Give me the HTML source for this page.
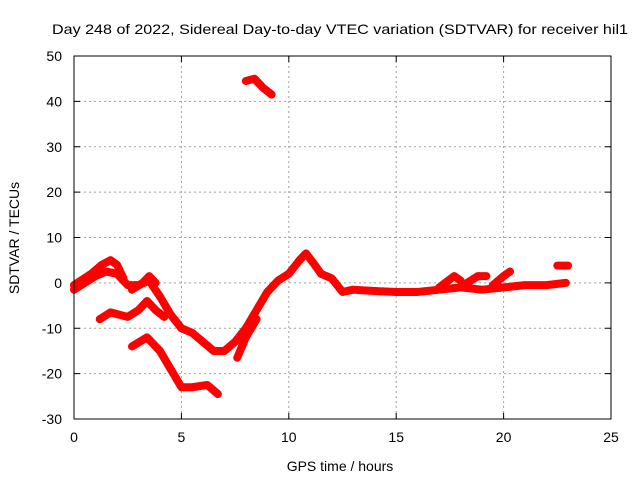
<!DOCTYPE html>
<html><head><meta charset="utf-8"><style>
body{margin:0;background:#fff}
svg{display:block;font-family:"Liberation Sans",sans-serif}
</style></head><body>
<svg id="c" width="640" height="480">
<rect width="640" height="480" fill="#fff"/>
<text x="340" y="34" font-size="14" text-anchor="middle" textLength="576" lengthAdjust="spacingAndGlyphs">Day 248 of 2022, Sidereal Day-to-day VTEC variation (SDTVAR) for receiver hil1</text>
<g id="grid"></g>
<g id="series"></g>
<rect x="74" y="56" width="537" height="363" fill="none" stroke="#000" stroke-width="1"/>
<text x="340" y="471" font-size="14" text-anchor="middle">GPS time / hours</text>
<text transform="translate(19,238) rotate(-90)" font-size="14" text-anchor="middle">SDTVAR / TECUs</text>
</svg>
<script>
const xTicks=[0,5,10,15,20,25];
const yTicks=[-30,-20,-10,0,10,20,30,40,50];
const segMain=[[0,-1.5],[0.5,0],[1,1.5],[1.5,2.5],[2,2],[2.5,-0.5],[3,-0.5],[3.5,0.5],[4,-3],[4.5,-7],[5,-10],[5.5,-11],[6,-13],[6.5,-15],[7,-15],[7.5,-13],[8,-10],[8.5,-6],[9,-2],[9.5,0.5],[10,2],[10.5,5],[10.8,6.5],[11.2,4],[11.5,2],[12,1],[12.5,-2],[13,-1.5],[14,-1.8],[15,-2],[16,-2],[17,-1.5],[18,-1],[19,-1.5],[20,-1],[21,-0.5],[22,-0.5],[22.9,0]];
const segUpper=[[0,-0.5],[0.8,2],[1.3,4],[1.7,5],[2.0,4],[2.3,1]];
const segB=[[1.2,-8],[1.7,-6.5],[2.5,-7.5],[3,-6],[3.4,-4],[3.8,-6],[4.2,-7.5]];
const segC=[[2.7,-14],[3.4,-12],[4,-15],[4.5,-19],[5,-23],[5.5,-23],[6.2,-22.5],[6.7,-24.5]];
const segD=[[7.6,-16.5],[8,-12],[8.5,-8]];
const segTop=[[8.0,44.5],[8.4,45],[8.8,43],[9.2,41.5]];
const segE=[[2.7,-1.5],[3.2,0],[3.5,1.5],[3.8,0]];
const segF=[[17,-1],[17.7,1.5],[18,0.5]];
const segG=[[18.3,0],[18.8,1.5],[19.2,1.5]];
const segH=[[19.5,-0.5],[20,1.5],[20.3,2.5]];
const segI=[[22.5,3.8],[23,3.8]];
const series=[segMain,segUpper,segB,segC,segD,segTop,segE,segF,segG,segH,segI];
const X0=74,X1=611,Y0=419,Y1=56;
const sx=v=>X0+(v-0)/(25-0)*(X1-X0);
const sy=v=>Y0-(v+30)/80*(Y0-Y1);
const NS="http://www.w3.org/2000/svg";
const g=document.getElementById('grid'),s=document.getElementById('series');
function mk(t,a,p){const e=document.createElementNS(NS,t);for(const k in a)e.setAttribute(k,a[k]);p.appendChild(e);return e;}
xTicks.forEach(v=>{const x=sx(v);
 if(v>0&&v<25){const l=mk('line',{x1:x,x2:x,y1:Y1,y2:Y0,stroke:'#a0a0a0','stroke-dasharray':'2,3'},g);
 
 }
 mk('line',{x1:x,x2:x,y1:Y0,y2:Y0-6,stroke:'#000'},g);mk('line',{x1:x,x2:x,y1:Y1,y2:Y1+6,stroke:'#000'},g);
 const t=mk('text',{x:x,y:442,'font-size':14,'text-anchor':'middle'},g);t.textContent=v;
 
 });
yTicks.forEach(v=>{const y=sy(v);
 if(v>-30&&v<50){const l=mk('line',{x1:X0,x2:X1,y1:y,y2:y,stroke:'#a0a0a0','stroke-dasharray':'2,3'},g);
 
 }
 mk('line',{x1:X0,x2:X0+6,y1:y,y2:y,stroke:'#000'},g);mk('line',{x1:X1,x2:X1-6,y1:y,y2:y,stroke:'#000'},g);
 const t=mk('text',{x:62,y:y+5,'font-size':14,'text-anchor':'end'},g);t.textContent=v;
 
 });
series.forEach(seg=>{const p=mk('polyline',{points:seg.map(d=>sx(d[0])+','+sy(d[1])).join(' '),fill:'none',stroke:'#ff0000','stroke-width':8,'stroke-linejoin':'round','stroke-linecap':'round'},s);
 
 });
</script>
</body></html>
